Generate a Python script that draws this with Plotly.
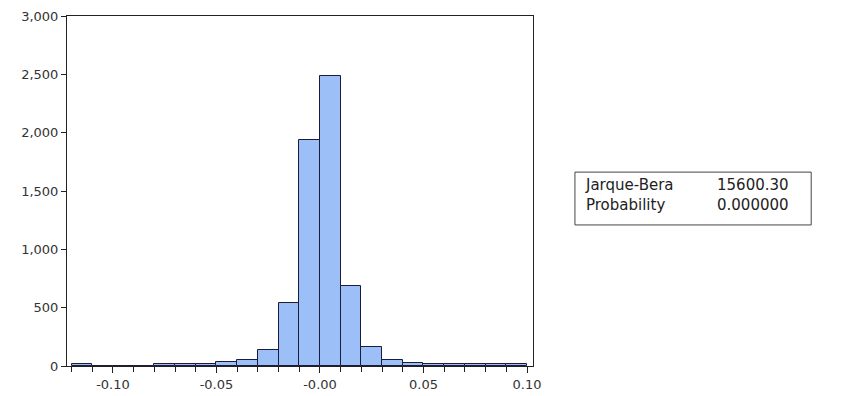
import plotly.graph_objects as go

bin_left = [-0.12, -0.11, -0.10, -0.09, -0.08, -0.07, -0.06, -0.05, -0.04, -0.03,
            -0.02, -0.01, 0.00, 0.01, 0.02, 0.03, 0.04, 0.05, 0.06, 0.07, 0.08, 0.09]
counts = [20, 0, 0, 0, 15, 15, 15, 35, 50, 140,
          540, 1940, 2490, 685, 160, 50, 25, 15, 15, 15, 15, 15]
bin_width = 0.01
x_tickvals = [-0.10, -0.05, 0.00, 0.05, 0.10]
x_ticktext = ["-0.10", "-0.05", "-0.00", "0.05", "0.10"]
y_tickvals = [0, 500, 1000, 1500, 2000, 2500, 3000]
stats_labels = ["Jarque-Bera", "Probability"]
stats_values = ["15600.30", "0.000000"]

centers = [b + bin_width / 2 for b in bin_left]

fig = go.Figure(go.Bar(
    x=centers, y=counts, width=[bin_width] * len(centers),
    marker=dict(color="#9DBFF8", line=dict(color="#1c1c3a", width=1)),
))

FAM = "DejaVu Sans, Arial, sans-serif"
font = dict(family=FAM, size=13, color="#333333")

fig.update_layout(
    width=861, height=396,
    margin=dict(l=67, r=328, t=16, b=30, autoexpand=False),
    paper_bgcolor="white", plot_bgcolor="white",
    showlegend=False, bargap=0,
    font=font,
)
fig.update_xaxes(
    range=[-0.1222, 0.1029], tickvals=x_tickvals, ticktext=x_ticktext,
    ticks="outside", ticklen=6, tickcolor="#222", tickwidth=1,
    minor=dict(dtick=0.01, tick0=0, ticks="outside", ticklen=5, tickcolor="#222", showgrid=False),
    showline=True, linecolor="#222", linewidth=1, mirror=True,
    showgrid=False, zeroline=False, automargin=False,
)
fig.update_yaxes(
    range=[0, 3000], tickvals=y_tickvals, tickformat=",",
    ticks="outside", ticklen=5, tickcolor="#222", tickwidth=1,
    showline=True, linecolor="#222", linewidth=1, mirror=True,
    showgrid=False, zeroline=False, automargin=False,
)

fig.add_shape(type="rect", xref="paper", yref="paper",
              x0=1.090, x1=1.597, y0=0.403, y1=0.554,
              line=dict(color="#444444", width=1), fillcolor="white")
box_font = dict(family=FAM, size=15, color="#222")
fig.add_annotation(text="<br>".join(stats_labels), xref="paper", yref="paper",
                   x=1.109, y=0.4886, xanchor="left", yanchor="middle",
                   align="left", showarrow=False, font=box_font, borderpad=0)
fig.add_annotation(text="<br>".join(stats_values), xref="paper", yref="paper",
                   x=1.392, y=0.4886, xanchor="left", yanchor="middle",
                   align="left", showarrow=False, font=box_font, borderpad=0)

fig.write_html("out.html")
